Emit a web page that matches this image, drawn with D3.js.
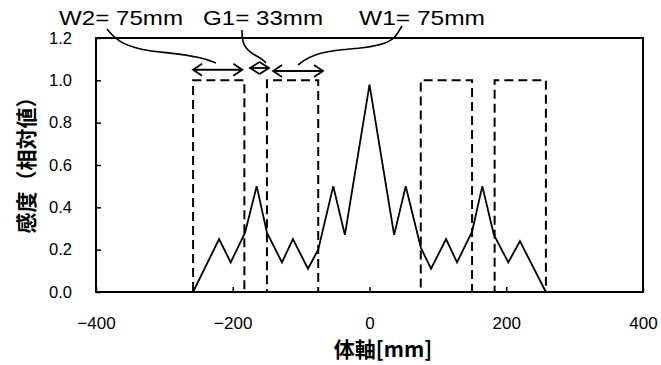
<!DOCTYPE html>
<html>
<head>
<meta charset="utf-8">
<script src="https://cdn.jsdelivr.net/npm/d3@7"></script>
<style>
  html, body { margin: 0; padding: 0; background: #fff; }
  svg { display: block; }
  text { font-family: "Liberation Sans", Arial, sans-serif; fill: #000; }
</style>
</head>
<body>
<svg id="chart" width="661" height="365"></svg>
<script>
// ---- data ----
const xTicks = [-400, -200, 0, 200, 400];
const yTicks = [0, 0.2, 0.4, 0.6, 0.8, 1.0, 1.2];
const yTickLabels = ["0.0", "0.2", "0.4", "0.6", "0.8", "1.0", "1.2"];
const xTickLabels = ["\u2212400", "\u2212200", "0", "200", "400"];

// measured sensitivity profile (solid line)
const posMm = [-400, -258, -220, -203, -182, -165, -150, -128, -112, -90, -75, -53, -36, 0,
               36, 53, 75, 90, 112, 128, 150, 165, 182, 203, 220, 258, 400];
const sensitivity = [0, 0, 0.25, 0.14, 0.28, 0.5, 0.28, 0.14, 0.25, 0.11, 0.2, 0.5, 0.27, 0.98,
                     0.27, 0.5, 0.21, 0.11, 0.25, 0.14, 0.285, 0.5, 0.27, 0.14, 0.24, 0, 0];

// ideal detector profile (dashed boxes)
const boxPosMm = [-400, -258, -258, -183, -183, -150, -150, -75, -75, 75, 75, 150, 150, 183, 183, 258, 258, 400];
const boxValues = [0, 0, 1, 1, 0, 0, 1, 1, 0, 0, 1, 1, 0, 0, 1, 1, 0, 0];

// annotation labels
const annLabels = ["W2= 75mm", "G1= 33mm", "W1= 75mm"];

// ---- layout ----
const svg = d3.select("#chart");
const x = d3.scaleLinear().domain([-400, 400]).range([96, 643]);
const y = d3.scaleLinear().domain([0, 1.2]).range([292, 38]);

// x axis
const gx = svg.append("g").attr("transform", `translate(0,${y(0)})`)
  .call(d3.axisBottom(x).tickValues(xTicks).tickSize(-5).tickPadding(25)
        .tickFormat((d, i) => xTickLabels[i]));
gx.select(".domain").remove();
gx.selectAll("line").attr("stroke", "#000").attr("stroke-width", 1.5);
gx.selectAll("text").style("font-size", "17px").attr("fill", "#000");

// y axis
const gy = svg.append("g").attr("transform", `translate(${x(-400)},0)`)
  .call(d3.axisLeft(y).tickValues(yTicks).tickSize(-5).tickPadding(24)
        .tickFormat((d, i) => yTickLabels[i]));
gy.select(".domain").remove();
gy.selectAll("line").attr("stroke", "#000").attr("stroke-width", 1.5);
gy.selectAll("text").style("font-size", "16.5px").attr("fill", "#000");

// dashed ideal profile
const boxData = boxPosMm.map((p, i) => [p, boxValues[i]]);
svg.append("path")
  .attr("d", d3.line().x(d => x(d[0])).y(d => y(d[1]))(boxData))
  .attr("fill", "none").attr("stroke", "#000").attr("stroke-width", 2)
  .attr("stroke-dasharray", "9,5");

// solid measured line
const lineData = posMm.map((p, i) => [p, sensitivity[i]]);
svg.append("path")
  .attr("d", d3.line().x(d => x(d[0])).y(d => y(d[1]))(lineData))
  .attr("fill", "none").attr("stroke", "#000").attr("stroke-width", 1.8)
  .attr("stroke-linejoin", "miter");

// frame
svg.append("rect")
  .attr("x", x(-400)).attr("y", y(1.2))
  .attr("width", x(400) - x(-400)).attr("height", y(0) - y(1.2))
  .attr("fill", "none").attr("stroke", "#000").attr("stroke-width", 2);

// axis titles
svg.append("text")
  .attr("transform", `translate(34,160) rotate(-90)`)
  .attr("text-anchor", "middle")
  .style("font-family", "'Noto Sans CJK JP', sans-serif")
  .style("font-size", "21px").style("font-weight", "700")
  .text("感度（相対値）");

svg.append("text")
  .attr("x", 383).attr("y", 357)
  .attr("text-anchor", "middle")
  .style("font-family", "'Noto Sans CJK JP', sans-serif")
  .style("font-size", "21px").style("font-weight", "700")
  .text("体軸[mm]");

// annotation texts
const annX = [59, 203, 359];
const annLen = [124, 120, 126];
annLabels.forEach((t, i) => {
  svg.append("text").attr("x", annX[i]).attr("y", 25)
    .attr("textLength", annLen[i]).attr("lengthAdjust", "spacingAndGlyphs")
    .style("font-size", "21px").text(t);
});

// leader curves (in data units: mm, relative value)
const px2mm = px => x.invert(px);
const py2v = py => y.invert(py);
const leaders = [
  [[107,29],[118,42],[140,50],[170,53],[200,57],[216,63]],
  [[242,30],[242,43],[250,53],[261,58],[266,63]],
  [[402,26],[395,38],[387,43],[367,48],[333,50],[313,55],[303,61],[298,65]]
].map(pts => pts.map(p => [px2mm(p[0]), py2v(p[1])]));
const leaderLine = d3.line().x(d => x(d[0])).y(d => y(d[1])).curve(d3.curveBasis);
leaders.forEach(l => {
  svg.append("path").attr("d", leaderLine(l))
    .attr("fill", "none").attr("stroke", "#000").attr("stroke-width", 1.6);
});

// double arrows (data units)
const arrows = [
  { x0: -258, x1: -186, v: 1.05, head: 9 },
  { x0: px2mm(250), x1: px2mm(269), v: py2v(68), head: 9.5 },
  { x0: -141, x1: -68, v: 1.044, head: 9 }
];
arrows.forEach(a => {
  const X0 = x(a.x0), X1 = x(a.x1), Y = y(a.v), h = a.head;
  const g = svg.append("g").attr("fill", "none").attr("stroke", "#000").attr("stroke-width", 1.8);
  g.append("line").attr("x1", X0).attr("x2", X1).attr("y1", Y).attr("y2", Y);
  g.append("path").attr("d", `M${X0 + h},${Y - 6}L${X0},${Y}L${X0 + h},${Y + 6}`);
  g.append("path").attr("d", `M${X1 - h},${Y - 6}L${X1},${Y}L${X1 - h},${Y + 6}`);
});
</script>
</body>
</html>
